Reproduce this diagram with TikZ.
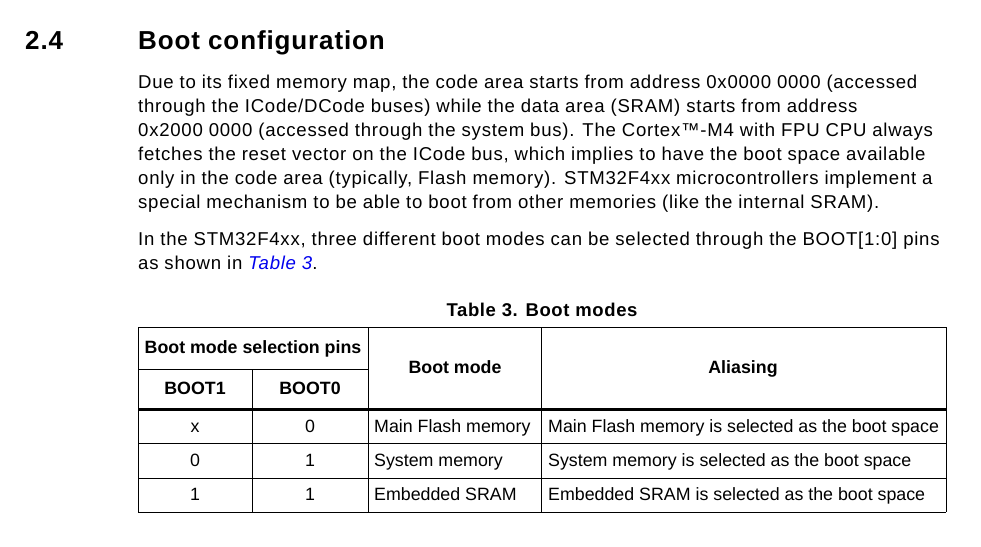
\documentclass[tikz,border=0pt]{standalone}
\usepackage{fontspec}
\setmainfont{Liberation Sans}
\newfontfamily\spaced{Liberation Sans}[LetterSpace=3.4]
\newfontfamily\bodyspaced{Liberation Sans}[LetterSpace=4.0]
\definecolor{linkblue}{RGB}{0,0,238}
\begin{document}
\begin{tikzpicture}[x=1pt,y=-1pt,
  body/.style={anchor=base west,inner sep=0pt,font=\bodyspaced\fontsize{18.6}{22}\selectfont},
  cell/.style={anchor=base west,inner sep=0pt,font=\fontsize{17.8}{21}\selectfont},
  ccell/.style={anchor=base,inner sep=0pt,font=\fontsize{17.8}{21}\selectfont},
  hcell/.style={anchor=base,inner sep=0pt,font=\fontsize{17.8}{21}\selectfont\bfseries},
  rule/.style={line width=1pt,draw=black},
  thickrule/.style={line width=3pt,draw=black}]
\useasboundingbox[fill=white] (0,0) rectangle (981,546);
% heading
\node[anchor=base west,inner sep=0pt,font=\spaced\fontsize{26}{30}\selectfont\bfseries] (secnum) at (25,49) {2.4};
\node[anchor=base west,inner sep=0pt,font=\spaced\fontsize{26}{30}\selectfont\bfseries] (sectitle) at (138,49) {Boot configuration};
% paragraph 1
\node[body] (p1) at (138,88.5) {Due to its fixed memory map, the code area starts from address 0x0000 0000 (accessed};
\node[body] (p2) at (138,112.5) {through the ICode/DCode buses) while the data area (SRAM) starts from address};
\node[body] (p3) at (138,136.5) {0x2000 0000 (accessed through the system bus). The Cortex™-M4 with FPU CPU always};
\node[body] (p4) at (138,160.5) {fetches the reset vector on the ICode bus, which implies to have the boot space available};
\node[body] (p5) at (138,184.5) {only in the code area (typically, Flash memory). STM32F4xx microcontrollers implement a};
\node[body] (p6) at (138,208.5) {special mechanism to be able to boot from other memories (like the internal SRAM).};
% paragraph 2
\node[body] (q1) at (138,245.5) {In the STM32F4xx, three different boot modes can be selected through the BOOT[1:0] pins};
\node[body] (q2) at (138,269.5) {as shown in {\color{linkblue}\itshape Table 3}.};
% caption
\node[anchor=base,inner sep=0pt,font=\spaced\fontsize{18.5}{21}\selectfont\bfseries] (cap) at (542,316) {Table 3. Boot modes};
% table grid
\draw[rule] (138,327) -- (946,327);
\draw[rule] (138,369) -- (368,369);
\draw[rule] (138,443) -- (946,443);
\draw[rule] (138,478) -- (946,478);
\draw[rule] (138,512) -- (946,512);
\draw[thickrule] (138,409) -- (946,409);
\draw[rule] (138,327) -- (138,512);
\draw[rule] (252,369) -- (252,512);
\draw[rule] (368,327) -- (368,512);
\draw[rule] (541,327) -- (541,512);
\draw[rule] (946,327) -- (946,512);
% header text
\node[hcell] (hpins) at (253,353) {Boot mode selection pins};
\node[hcell] (hb1) at (195,394) {BOOT1};
\node[hcell] (hb0) at (310,394) {BOOT0};
\node[hcell] (hmode) at (455,373) {Boot mode};
\node[hcell] (halias) at (743,373) {Aliasing};
% rows
\node[ccell] (r1a) at (195,432) {x};
\node[ccell] (r1b) at (310,432) {0};
\node[cell] (r1c) at (374,432) {Main Flash memory};
\node[cell] (r1d) at (548,432) {Main Flash memory is selected as the boot space};
\node[ccell] (r2a) at (195,466.5) {0};
\node[ccell] (r2b) at (310,466.5) {1};
\node[cell] (r2c) at (374,466.5) {System memory};
\node[cell] (r2d) at (548,466.5) {System memory is selected as the boot space};
\node[ccell] (r3a) at (195,500.5) {1};
\node[ccell] (r3b) at (310,500.5) {1};
\node[cell] (r3c) at (374,500.5) {Embedded SRAM};
\node[cell] (r3d) at (548,500.5) {Embedded SRAM is selected as the boot space};
\end{tikzpicture}
\end{document}
